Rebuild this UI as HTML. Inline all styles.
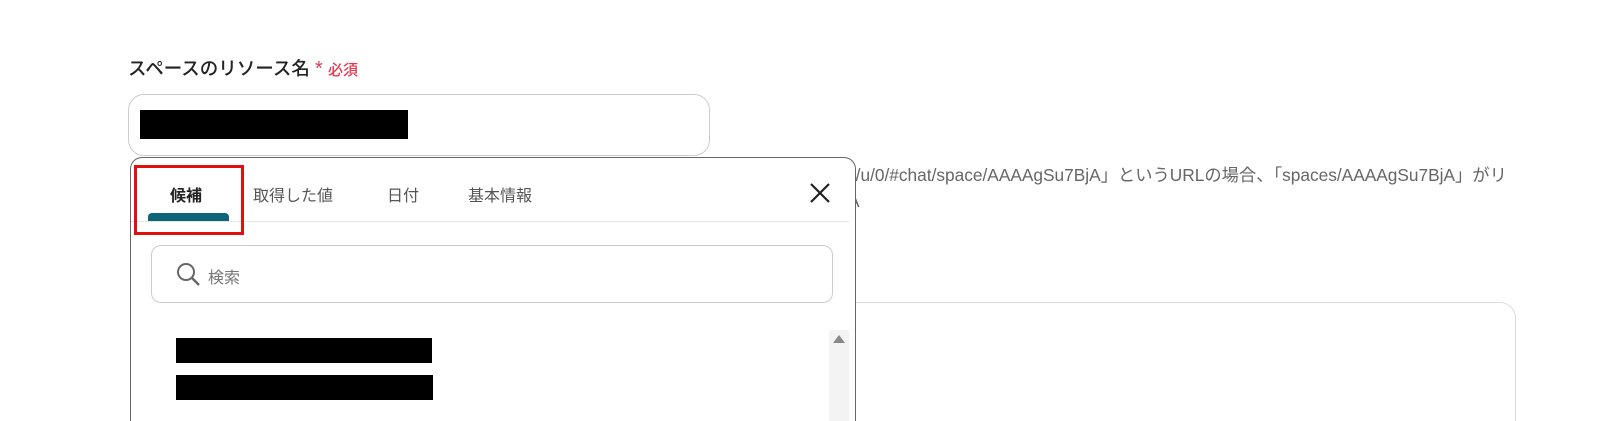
<!DOCTYPE html>
<html style="margin:0;width:1600px;height:421px;overflow:hidden"><head><meta charset="utf-8"><style>
body{margin:0;width:1600px;height:421px;background:#fff;overflow:hidden;position:relative;font-family:"Liberation Sans","Noto Sans CJK JP",sans-serif;}
.a{position:absolute}
</style></head><body>
<div class="a" style="left:128px;top:55px;font-size:18.5px;font-weight:500;color:#222;white-space:nowrap">スペースのリソース名 <span style="color:#e8384f;font-size:20px">*</span> <span style="color:#e8384f;font-size:15px">必須</span></div>
<div class="a" style="left:128px;top:94px;width:580px;height:60px;border:1px solid #ccc;border-radius:16px"></div>
<div class="a" style="left:140px;top:110px;width:268px;height:29px;background:#000"></div>
<div class="a" style="left:848px;top:162px;font-size:17.3px;color:#666;white-space:nowrap;line-height:26px">il/u/0/#chat/space/AAAAgSu7BjA」というURLの場合、「spaces/AAAAgSu7BjA」がリ<br>A</div>
<div class="a" style="left:700px;top:302px;width:814px;height:119px;border:1px solid #ddd;border-bottom:none;border-radius:16px 16px 0 0"></div>
<div class="a" style="left:130px;top:157px;width:724px;height:264px;border:1px solid #666;border-bottom:none;border-radius:12px 12px 0 0;background:#fff"></div>
<div class="a" style="left:131px;top:221px;width:718px;height:1px;background:#e6e6e6"></div>
<div class="a" style="left:170px;top:182px;font-size:16px;font-weight:bold;color:#222">候補</div>
<div class="a" style="left:253px;top:182px;font-size:16px;color:#555">取得した値</div>
<div class="a" style="left:387px;top:182px;font-size:16px;color:#555">日付</div>
<div class="a" style="left:468px;top:182px;font-size:16px;color:#555">基本情報</div>
<div class="a" style="left:148px;top:213px;width:81px;height:8px;background:#0e6478;border-radius:4px 4px 0 0"></div>
<div class="a" style="left:134px;top:165px;width:104px;height:64px;border:3px solid #e01010"></div>
<svg class="a" style="left:808px;top:181px" width="24" height="24"><path d="M3 3L21 21M21 3L3 21" stroke="#222" stroke-width="2.2"/></svg>
<div class="a" style="left:151px;top:245px;width:680px;height:56px;border:1px solid #ccc;border-radius:10px"></div>
<svg class="a" style="left:176px;top:262px" width="26" height="26"><circle cx="10" cy="10" r="8" fill="none" stroke="#666" stroke-width="2"/><path d="M16 16L23 23" stroke="#666" stroke-width="2.4"/></svg>
<div class="a" style="left:208px;top:264px;font-size:16px;color:#777">検索</div>
<div class="a" style="left:176px;top:338px;width:256px;height:25px;background:#000"></div>
<div class="a" style="left:176px;top:375px;width:257px;height:25px;background:#000"></div>
<div class="a" style="left:829px;top:330px;width:20px;height:91px;background:#f3f3f3"></div>
<svg class="a" style="left:832px;top:333px" width="14" height="12"><path d="M1 10L7 2L13 10Z" fill="#888"/></svg>
</body></html>
